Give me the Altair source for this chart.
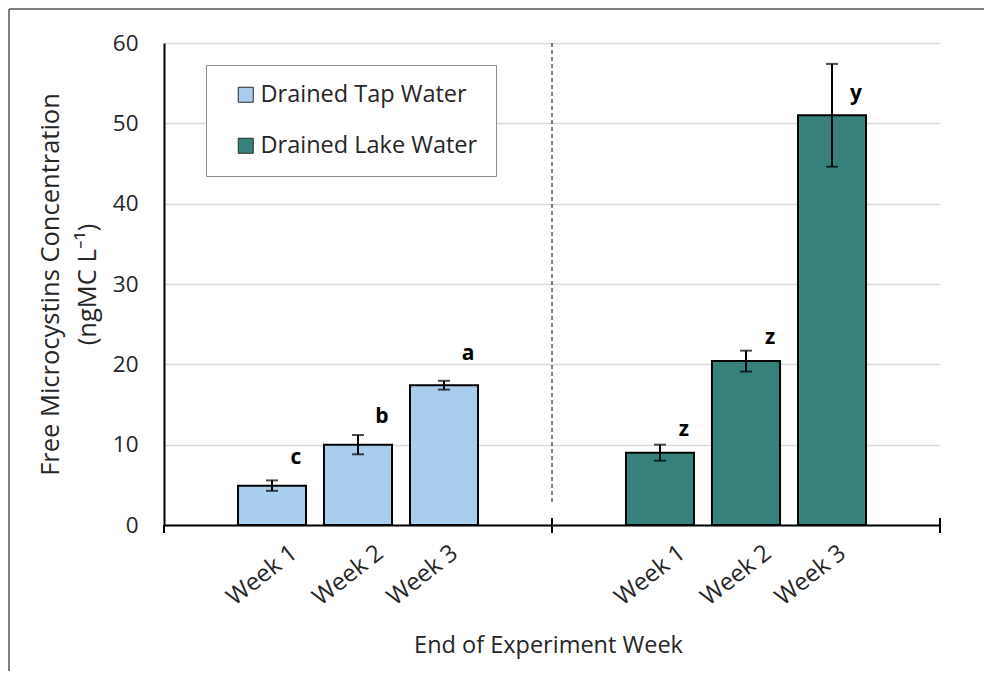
import altair as alt
import pandas as pd

weeks = ["Week 1", "Week 2", "Week 3"]
groups = ["Drained Tap Water", "Drained Lake Water"]
colors = ["#A9CDEC", "#37817D"]

tap_mean = [4.9, 10.0, 17.4]
tap_err = [0.65, 1.2, 0.55]
tap_letters = ["c", "b", "a"]
tap_letter_y = [8.4, 13.4, 21.3]

lake_mean = [9.0, 20.4, 51.0]
lake_err = [1.0, 1.3, 6.4]
lake_letters = ["z", "z", "y"]
lake_letter_y = [11.8, 23.3, 53.7]

y_ticks = [0, 10, 20, 30, 40, 50, 60]


def table(group, means, errs, letters, letter_y):
    return pd.DataFrame({
        "week": weeks,
        "group": group,
        "mean": means,
        "lo": [m - e for m, e in zip(means, errs)],
        "hi": [m + e for m, e in zip(means, errs)],
        "letter": letters,
        "ly": letter_y,
    })


tap_df = table(groups[0], tap_mean, tap_err, tap_letters, tap_letter_y)
lake_df = table(groups[1], lake_mean, lake_err, lake_letters, lake_letter_y)

W, H = 388, 482
FONT = "Open Sans"
TXT = "#262626"
one = pd.DataFrame({"k": [0]})

xscale = alt.Scale(domain=weeks, paddingInner=0.209, paddingOuter=0.86)
yscale = alt.Scale(domain=[0, 60], nice=False)
cscale = alt.Scale(domain=groups, range=colors)


def panel(df, left):
    xaxis = alt.Axis(
        title="End of Experiment Week" if left else None,
        titleX=W - 4 if left else 0, titleY=120, titleAnchor="middle",
        titleAlign="center", titleBaseline="middle",
        titleFont=FONT, titleFontSize=23.5, titleFontWeight="normal", titleColor=TXT,
        labelAngle=322, labelAlign="right", labelBaseline="middle",
        labelFont=FONT, labelFontSize=24, labelColor=TXT,
        labelOffset={"condition": {"test": "datum.value === 'Week 3'", "value": 11},
                     "value": 22.5},
        labelPadding=25,
        ticks=False, domain=True, domainColor="black", domainWidth=2,
    )
    if left:
        yaxis = alt.Axis(
            values=y_ticks,
            title=["Free Microcystins Concentration", "(ngMC L\u207b\u00b9)"],
            titleFont=FONT, titleFontSize=25.5, titleFontWeight="normal", titleColor=TXT,
            titleLineHeight=37, titlePadding=12,
            labelFont=FONT, labelFontSize=22.5, labelColor=TXT, labelPadding=26,
            ticks=False, domain=True, domainColor="black", domainWidth=2,
            grid=True, gridColor="#D9D9D9", gridWidth=1.5,
        )
        legend = alt.Legend(
            orient="none", legendX=42, legendY=22, title=None,
            fillColor="white", strokeColor="#8C8C8C", padding=18,
            rowPadding=26, labelFont=FONT, labelFontSize=23.5, labelColor=TXT,
            labelOffset=3, labelLimit=400, symbolType="square", symbolSize=225,
            symbolStrokeColor="#262626", symbolStrokeWidth=1, symbolOffset=10,
        )
    else:
        yaxis = alt.Axis(
            values=y_ticks, title=None, labels=False, ticks=False, domain=False,
            grid=True, gridColor="#D9D9D9", gridWidth=1.5,
        )
        legend = None

    base = alt.Chart(df)
    bars = base.mark_bar(stroke="black", strokeWidth=2).encode(
        x=alt.X("week:N", scale=xscale, axis=xaxis, sort=weeks),
        y=alt.Y("mean:Q", scale=yscale, axis=yaxis),
        color=alt.Color("group:N", scale=cscale, legend=legend),
    )
    err = base.mark_rule(color="black", strokeWidth=2).encode(
        x=alt.X("week:N", sort=weeks), y="lo:Q", y2="hi:Q"
    )
    cap_lo = base.mark_tick(color="black", size=12, thickness=2).encode(
        x=alt.X("week:N", sort=weeks), y="lo:Q"
    )
    cap_hi = base.mark_tick(color="black", size=12, thickness=2).encode(
        x=alt.X("week:N", sort=weeks), y="hi:Q"
    )
    letters = base.mark_text(
        dx=24, font=FONT, fontSize=21, fontWeight="bold", color="black",
        align="center", baseline="middle",
    ).encode(x=alt.X("week:N", sort=weeks), y="ly:Q", text="letter:N")

    tick_end = alt.Chart(one).mark_rule(color="black", strokeWidth=2).encode(
        x=alt.value(W), y=alt.value(H - 7), y2=alt.value(H + 8)
    )
    layers = [bars, err, cap_lo, cap_hi, letters, tick_end]
    if left:
        tick_start = alt.Chart(one).mark_rule(color="black", strokeWidth=2).encode(
            x=alt.value(0), y=alt.value(H), y2=alt.value(H + 8)
        )
        frame_top = alt.Chart(one).mark_rule(color="#7F7F7F", strokeWidth=2).encode(
            x=alt.value(-155), x2=alt.value(820), y=alt.value(-34)
        )
        frame_left = alt.Chart(one).mark_rule(color="#7F7F7F", strokeWidth=2).encode(
            x=alt.value(-155), y=alt.value(-34), y2=alt.value(628)
        )
        layers = [frame_top, frame_left] + layers + [tick_start]
    else:
        divider = alt.Chart(one).mark_rule(
            color="black", strokeWidth=1, strokeDash=[4, 3]
        ).encode(x=alt.value(0), y=alt.value(0), y2=alt.value(460))
        layers = [divider] + layers
    return alt.layer(*layers).properties(width=W, height=H)


chart = alt.hconcat(
    panel(tap_df, True), panel(lake_df, False), spacing=0, bounds="flush"
).resolve_scale(color="independent").properties(
    padding=0, background="white"
).configure_view(stroke=None).configure_concat(spacing=0)

chart.save("out.html", embed_options={"renderer": "svg", "actions": False})
